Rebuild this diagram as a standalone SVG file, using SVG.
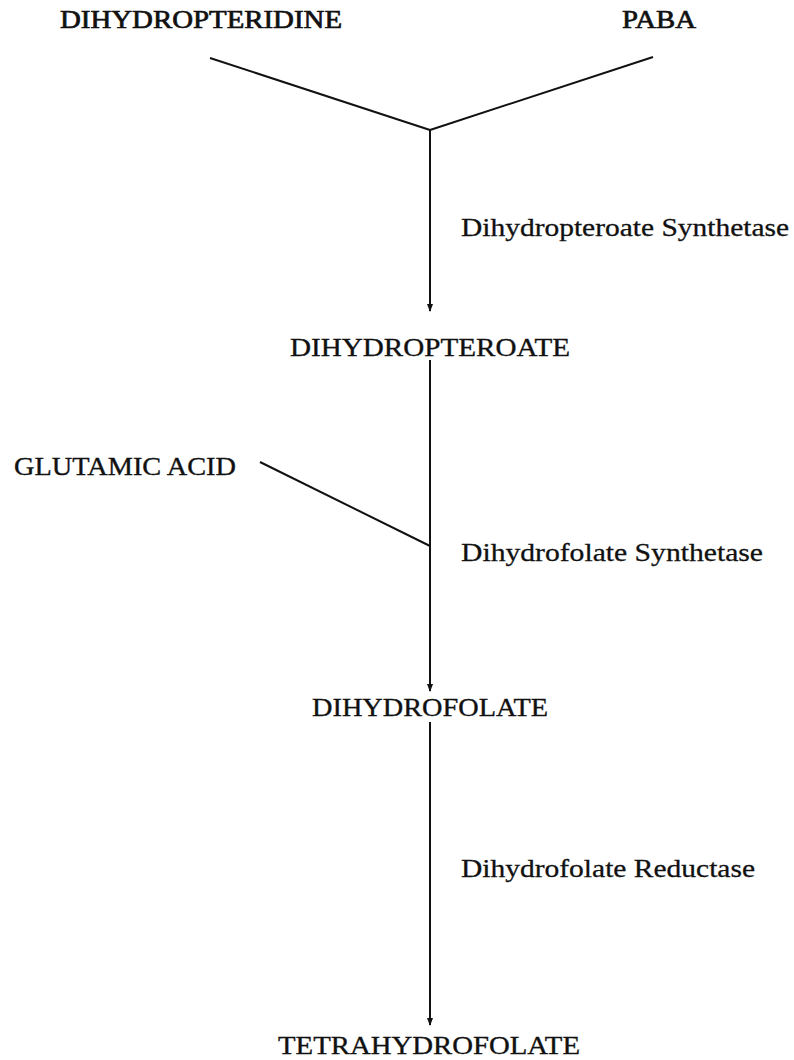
<svg xmlns="http://www.w3.org/2000/svg" width="794" height="1060" viewBox="0 0 794 1060">
<defs>
<style>
.t{font-family:"Liberation Serif","DejaVu Serif",serif;font-size:26px;fill:#111;stroke:#111;stroke-width:0.35}
.b{font-family:"Liberation Serif","DejaVu Serif",serif;font-size:26px;fill:#111;stroke:#111;stroke-width:0.7}
.e{font-family:"Liberation Serif","DejaVu Serif",serif;font-size:26px;fill:#111;stroke:#111;stroke-width:0.3}
.l{stroke:#111;stroke-width:2;fill:none}
</style>
<marker id="ah" markerWidth="8" markerHeight="12" refX="7" refY="4" orient="auto" markerUnits="userSpaceOnUse" viewBox="0 0 8 8">
<path d="M0,1 L8,4 L0,7 Z" fill="#111"/>
</marker>
</defs>
<rect width="794" height="1060" fill="#fff"/>
<g id="connectors">
<line class="l" x1="210" y1="58" x2="430" y2="130"/>
<line class="l" x1="653" y1="57" x2="430" y2="130"/>
<line class="l" x1="430" y1="130" x2="430" y2="311" marker-end="url(#ah)"/>
<line class="l" x1="430" y1="360" x2="430" y2="691" marker-end="url(#ah)"/>
<line class="l" x1="260" y1="462" x2="430" y2="546"/>
<line class="l" x1="430" y1="722" x2="430" y2="1025" marker-end="url(#ah)"/>
</g>
<g id="n-dihydropteridine"><text class="b" x="60" y="28" textLength="282" lengthAdjust="spacingAndGlyphs">DIHYDROPTERIDINE</text></g>
<g id="n-paba"><text class="b" x="622" y="28" textLength="74" lengthAdjust="spacingAndGlyphs">PABA</text></g>
<g id="e-dps"><text class="e" x="461" y="236" textLength="328" lengthAdjust="spacingAndGlyphs">Dihydropteroate Synthetase</text></g>
<g id="n-dihydropteroate"><text class="t" x="290" y="356" textLength="280" lengthAdjust="spacingAndGlyphs">DIHYDROPTEROATE</text></g>
<g id="n-glutamic"><text class="t" x="14" y="475" textLength="222" lengthAdjust="spacingAndGlyphs">GLUTAMIC ACID</text></g>
<g id="e-dfs"><text class="e" x="461" y="561" textLength="302" lengthAdjust="spacingAndGlyphs">Dihydrofolate Synthetase</text></g>
<g id="n-dihydrofolate"><text class="t" x="312" y="716" textLength="236" lengthAdjust="spacingAndGlyphs">DIHYDROFOLATE</text></g>
<g id="e-dfr"><text class="e" x="461" y="877" textLength="294" lengthAdjust="spacingAndGlyphs">Dihydrofolate Reductase</text></g>
<g id="n-tetrahydrofolate"><text class="t" x="278" y="1054" textLength="302" lengthAdjust="spacingAndGlyphs">TETRAHYDROFOLATE</text></g>
</svg>
